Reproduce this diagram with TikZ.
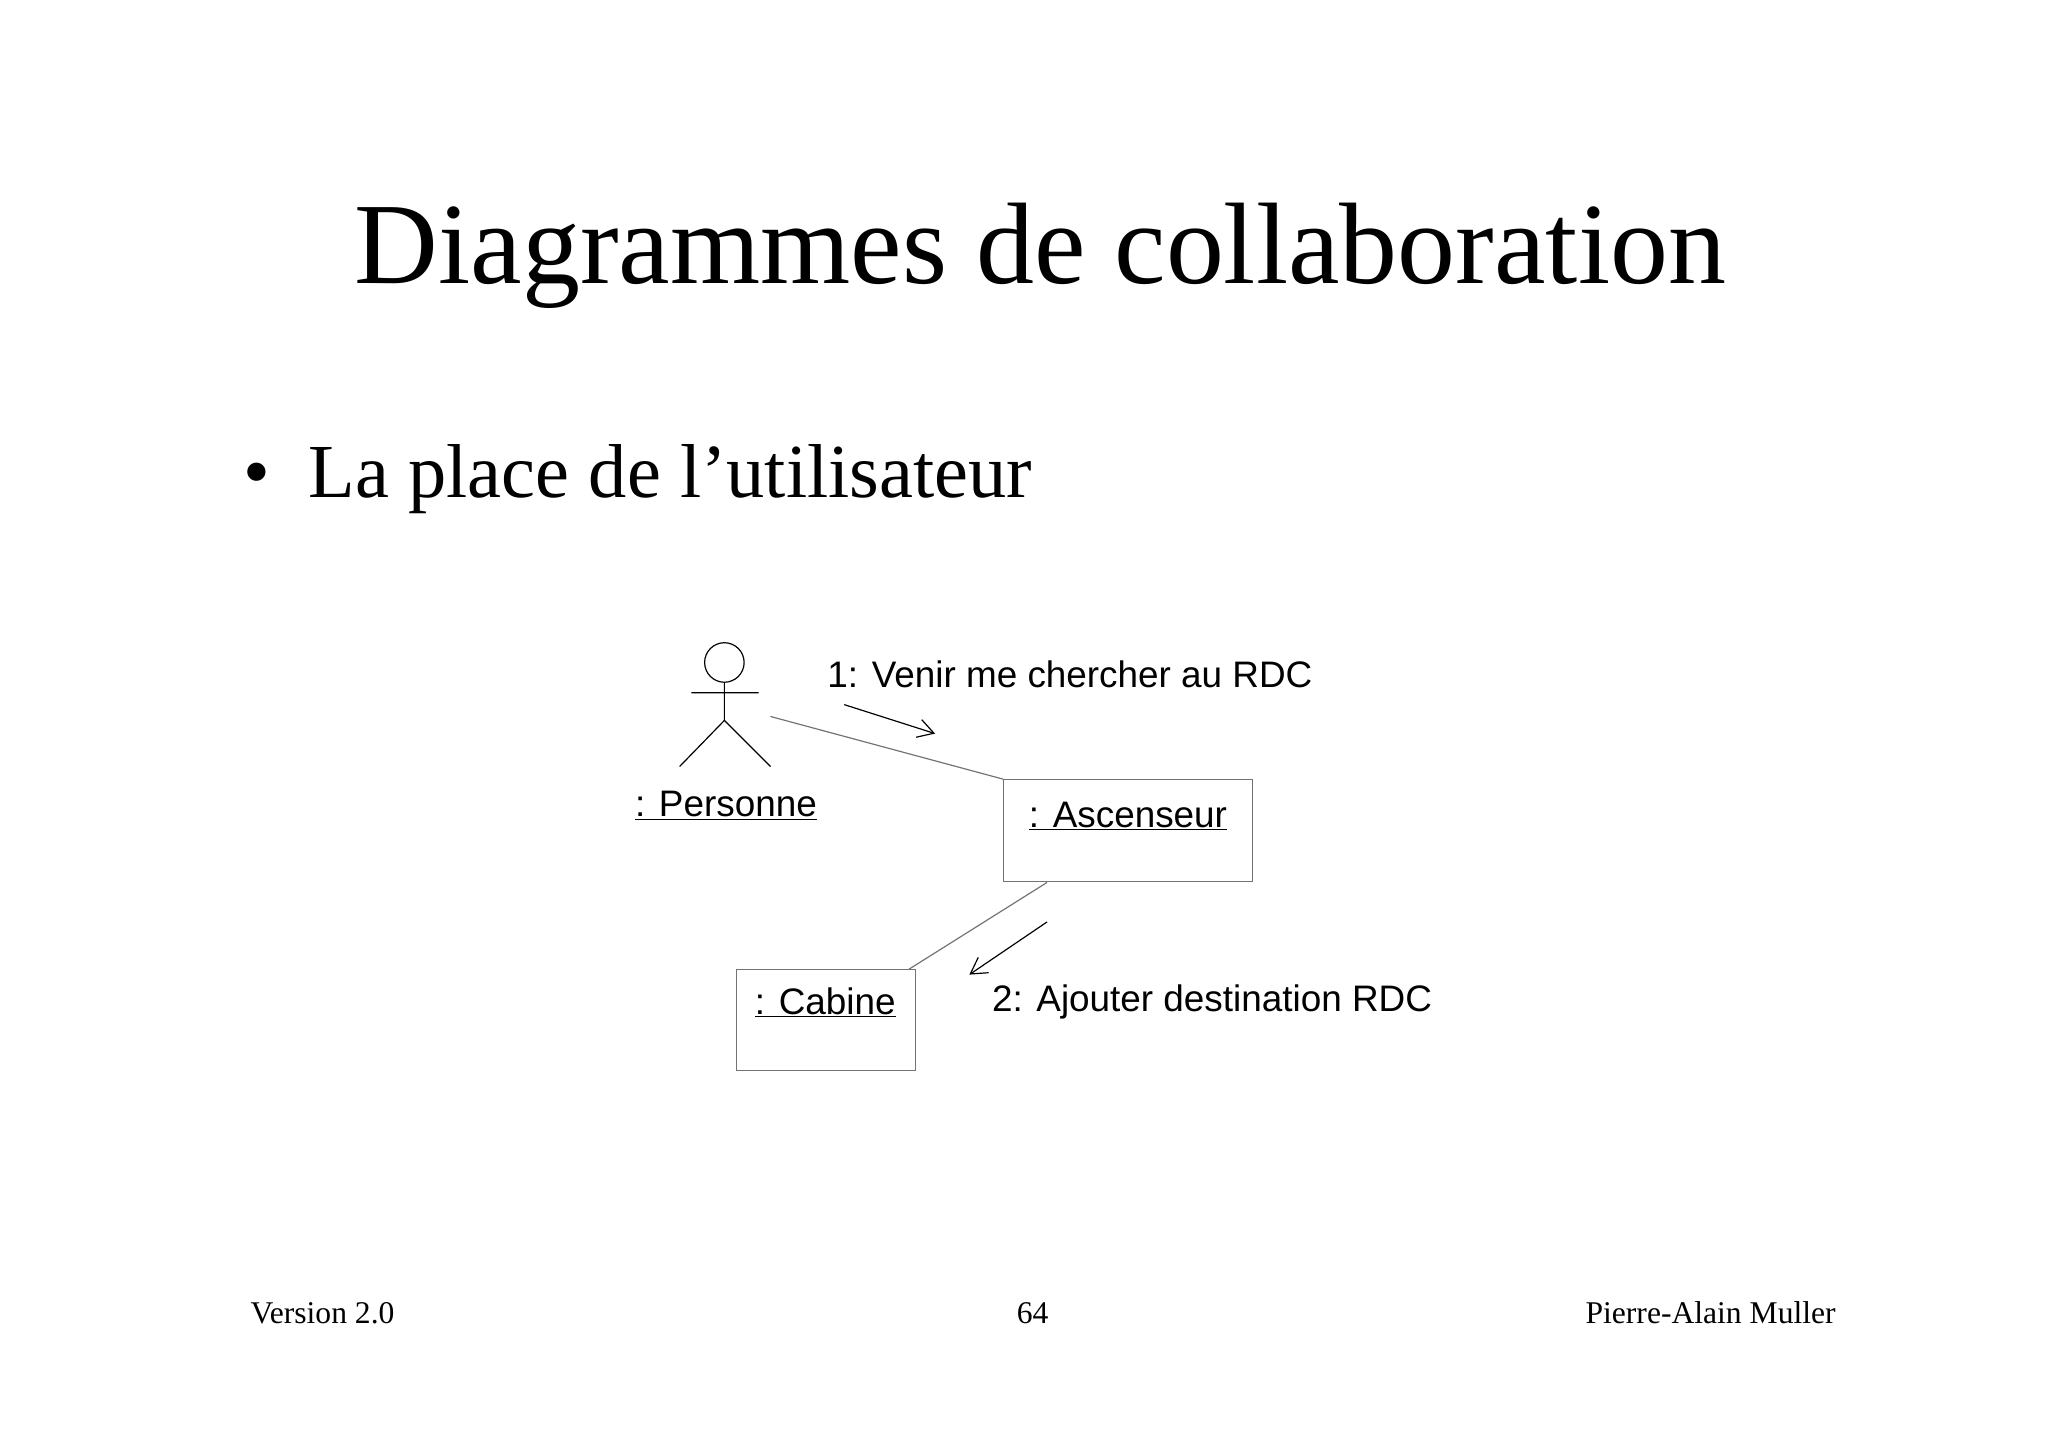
\documentclass[tikz,border=0pt]{standalone}
\usepackage{fontspec}
\setmainfont{Liberation Serif}
\newfontfamily\arialf{Liberation Sans}
\usetikzlibrary{arrows.meta}
\begin{document}
\begin{tikzpicture}[x=1pt,y=-1pt,
  lnk/.style={draw=black!55,line width=0.9pt},
  msg/.style={draw=black,line width=0.9pt,-{Straight Barb[length=12pt,width=14pt]}},
  obj/.style={draw=black!55,line width=0.9pt,minimum width=189pt,minimum height=77pt},
  lbl/.style={font=\arialf\fontsize{28}{32}\selectfont,anchor=base west,inner sep=0pt},
  stick/.style={draw=black,line width=0.9pt}]
\useasboundingbox (0,0) rectangle (1555,1098);
\node[anchor=base,inner sep=0pt,font=\fontsize{88}{96}\selectfont] (title) at (790,215) {Diagrammes de collaboration};
\node[anchor=base west,inner sep=0pt,font=\fontsize{58}{64}\selectfont] (bul) at (185,378) {\textbullet\ \ La place de l’utilisateur};
% actor
\node[circle,stick,minimum size=30pt,inner sep=0pt] (head) at (550,503) {};
\coordinate (neck) at (550,518);
\coordinate (hip) at (550,547);
\coordinate (al) at (525,526);
\coordinate (ar) at (576,526);
\coordinate (ll) at (516,582);
\coordinate (lr) at (585,582);
\draw[stick] (head.south) -- (hip) (al) -- (ar) (hip) -- (ll) (hip) -- (lr);
\node[lbl] (pers) at (482,620) {\underline{: Personne}};
% objects
\node[obj,minimum width=189pt,minimum height=77pt] (asc) at (856.5,630.5) {};
\node[lbl] (ascl) at (781,628) {\underline{: Ascenseur}};
\node[obj,minimum width=136pt,minimum height=77pt] (cab) at (627,774.5) {};
\node[lbl] (cabl) at (573,770) {\underline{: Cabine}};
\coordinate (pa) at (585,544);
\draw[lnk] (pa) -- (asc.north west);
\coordinate (ab) at (795,670);
\coordinate (cb) at (690,736);
\draw[lnk] (ab) -- (cb);
% messages
\coordinate (m1s) at (641,535);
\coordinate (m1e) at (710,557);
\draw[msg] (m1s) -- (m1e);
\node[lbl] (m1) at (628,522) {1: Venir me chercher au RDC};
\coordinate (m2s) at (795,700);
\coordinate (m2e) at (736,740);
\draw[msg] (m2s) -- (m2e);
\node[lbl] (m2) at (753,768) {2: Ajouter destination RDC};
% footer
\node[anchor=base west,inner sep=0pt,font=\fontsize{24}{28}\selectfont] (f1) at (190,1005) {Version 2.0};
\node[anchor=base,inner sep=0pt,font=\fontsize{24}{28}\selectfont] (f2) at (784,1005) {64};
\node[anchor=base east,inner sep=0pt,font=\fontsize{24}{28}\selectfont] (f3) at (1394,1005) {Pierre-Alain Muller};
\end{tikzpicture}
\end{document}
